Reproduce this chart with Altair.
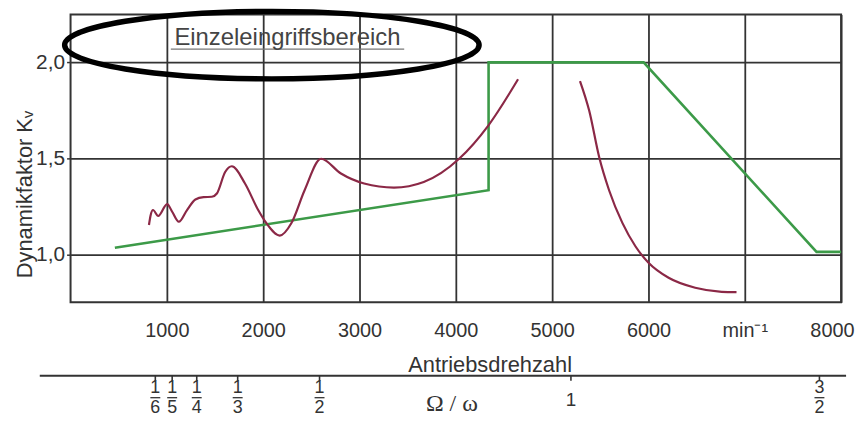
import altair as alt
import pandas as pd

# ---------------- data ----------------
# x: Antriebsdrehzahl (min^-1), y: Dynamikfaktor K_v
green_rpm = [460, 4340, 4340, 5950, 7745, 8000]
green_k = [1.035, 1.334, 2.0, 2.0, 1.013, 1.013]

red1_rpm = [814, 832, 856, 910, 1003, 1055, 1124, 1209, 1296, 1381, 1467, 1519,
            1605, 1674, 1811, 1948, 2034, 2172, 2292, 2430, 2601, 2807, 3048,
            3358, 3667, 4034, 4337, 4646]
red1_k = [1.153, 1.205, 1.231, 1.200, 1.262, 1.222, 1.170, 1.231, 1.286, 1.298,
          1.300, 1.317, 1.429, 1.459, 1.369, 1.231, 1.162, 1.098, 1.162, 1.334,
          1.498, 1.421, 1.369, 1.348, 1.377, 1.498, 1.671, 1.912]

red2_rpm = [5289, 5385, 5488, 5591, 5729, 5866, 6003, 6209, 6485, 6760, 6914]
red2_k = [1.903, 1.748, 1.507, 1.334, 1.164, 1.041, 0.955, 0.878, 0.826, 0.805, 0.803]

x_ticks = [1000, 2000, 3000, 4000, 5000, 6000, 7000, 8000]
y_ticks = [1.0, 1.5, 2.0]

# secondary scale Omega/omega (positions in min^-1)
frac_rpm = [880, 1055, 1310, 1735, 2585, 7775]
frac_num = ["1", "1", "1", "1", "1", "3"]
frac_den = ["6", "5", "4", "3", "2", "2"]
whole_rpm = [5195]
whole_txt = ["1"]
all_tick_rpm = frac_rpm + whole_rpm

annot_text = "Einzeleingriffsbereich"
annot_pos = [2252, 2.126]
underline = [1041, 3464, 2.069]
ellipse_center = [2090, 2.09]

# ---------------- styles ----------------
GREEN = "#3c9a48"
MAROON = "#8b2846"
INK = "#333333"
FONT = "Liberation Sans, Arial, sans-serif"
W, H = 776, 290
RX, RY = 208.7, 34
NBSP = "\u00a0"

xscale = alt.Scale(domain=[0, 8000], nice=False, zero=False)
yscale = alt.Scale(domain=[0.75, 2.25], nice=False, zero=False)

x_axis = alt.Axis(values=x_ticks, grid=True, ticks=False, tickSize=0,
                  domain=False, labelPadding=18, labelFontSize=20,
                  labelFlush=True, labelFlushOffset=13,
                  labelExpr="datum.value == 7000 ? '" + NBSP * 7 + "min⁻¹' : format(datum.value, 'd')",
                  titleFontSize=22, titleFontWeight="normal",
                  titleX=422, titleY=63, titleBaseline="middle")
y_axis = alt.Axis(values=y_ticks, grid=True, tickSize=4, domain=False,
                  labelPadding=2, labelFontSize=21,
                  labelExpr="replace(format(datum.value, '.1f'), '.', ',')",
                  titleFontSize=22, titleFontWeight="normal",
                  titleX=-46, titleY=181, titleBaseline="middle")

def X(field="rpm"):
    return alt.X(f"{field}:Q", scale=xscale, axis=x_axis, title="Antriebsdrehzahl")

def Y(field="K"):
    return alt.Y(f"{field}:Q", scale=yscale, axis=y_axis, title="Dynamikfaktor Kᵥ")

green_df = pd.DataFrame({"rpm": green_rpm, "K": green_k, "o": range(len(green_rpm))})
red_df = pd.DataFrame({
    "rpm": red1_rpm + red2_rpm,
    "K": red1_k + red2_k,
    "seg": ["a"] * len(red1_rpm) + ["b"] * len(red2_rpm),
})

green = alt.Chart(green_df).mark_line(color=GREEN, strokeWidth=2.6).encode(
    x=X(), y=Y(), order="o:Q")

red = alt.Chart(red_df).mark_line(color=MAROON, strokeWidth=2.2, interpolate="monotone").encode(
    x=X(), y=Y(), detail="seg:N")

# ellipse annotation (custom symbol path, unit radius)
k = 0.5523
b = RY / RX
path = (f"M 1 0 C 1 {k*b:.4f} {k:.4f} {b:.4f} 0 {b:.4f} "
        f"C {-k:.4f} {b:.4f} -1 {k*b:.4f} -1 0 "
        f"C -1 {-k*b:.4f} {-k:.4f} {-b:.4f} 0 {-b:.4f} "
        f"C {k:.4f} {-b:.4f} 1 {-k*b:.4f} 1 0 Z")
ell_df = pd.DataFrame({"rpm": [ellipse_center[0]], "K": [ellipse_center[1]]})
ellipse = alt.Chart(ell_df).mark_point(
    shape=path, size=(2 * RX) ** 2, filled=False, stroke="black",
    strokeWidth=5.5, opacity=1
).encode(x=X(), y=Y())

ann_df = pd.DataFrame({"rpm": [annot_pos[0]], "K": [annot_pos[1]], "t": [annot_text]})
ann = alt.Chart(ann_df).mark_text(fontSize=24, font=FONT, color="#444444",
                                  baseline="middle").encode(x=X(), y=Y(), text="t:N")
ul_df = pd.DataFrame({"rpm": [underline[0]], "rpm2": [underline[1]], "K": [underline[2]]})
ul = alt.Chart(ul_df).mark_rule(color="#777777", strokeWidth=1.2).encode(
    x=X(), x2="rpm2:Q", y=Y())

# secondary axis Omega/omega
one_df = pd.DataFrame({"a": [0]})
sec_line = alt.Chart(one_df).mark_rule(color=INK, strokeWidth=2).encode(
    x=alt.value(-31), x2=alt.value(781), y=alt.value(364))

tick_df = pd.DataFrame({"rpm": all_tick_rpm})
sec_ticks = alt.Chart(tick_df).mark_rule(color=INK, strokeWidth=1.6).encode(
    x=X(), y=alt.value(364), y2=alt.value(369))

frac_df = pd.DataFrame({"rpm": frac_rpm, "num": frac_num, "den": frac_den})
nums = alt.Chart(frac_df).mark_text(fontSize=18, font=FONT, color=INK, baseline="middle").encode(
    x=X(), y=alt.value(376), text="num:N")
dens = alt.Chart(frac_df).mark_text(fontSize=18, font=FONT, color=INK, baseline="middle").encode(
    x=X(), y=alt.value(396), text="den:N")
bars = alt.Chart(frac_df).mark_rule(color=INK, strokeWidth=1.3, xOffset=-5, x2Offset=5).encode(
    x=X(), x2="rpm:Q", y=alt.value(386))

whole_df = pd.DataFrame({"rpm": whole_rpm, "t": whole_txt})
whole = alt.Chart(whole_df).mark_text(fontSize=19, font=FONT, color=INK, baseline="middle").encode(
    x=X(), y=alt.value(388), text="t:N")

omega_df = pd.DataFrame({"t": ["Ω / ω"]})
omega = alt.Chart(omega_df).mark_text(fontSize=24, font="Liberation Serif, Times New Roman, serif",
                                      color=INK, baseline="middle").encode(
    x=alt.value(384), y=alt.value(392), text="t:N")

chart = alt.layer(
    green, red, ellipse, ul, ann, sec_line, sec_ticks, nums, dens, bars, whole, omega
).properties(
    width=W, height=H,
    autosize=alt.AutoSizeParams(type="none"),
    padding={"left": 63, "top": 5, "right": 15, "bottom": 115},
    background="white",
).configure_view(
    stroke=INK, strokeWidth=2
).configure_axis(
    gridColor=INK, gridWidth=1.8, gridOpacity=1, tickColor=INK, tickWidth=1.5,
    labelColor=INK, titleColor=INK, labelFont=FONT, titleFont=FONT
)

chart.save("out.html", embed_options={"renderer": "svg", "actions": False})
